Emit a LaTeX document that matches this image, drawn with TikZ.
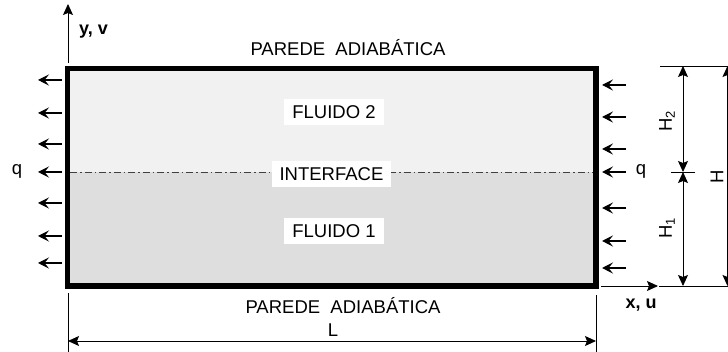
\documentclass[tikz,border=0pt]{standalone}
\usepackage{fontspec}
\setmainfont{Liberation Sans}
\usetikzlibrary{arrows.meta}
\definecolor{fluidtwo}{HTML}{F1F1F1}
\definecolor{fluidone}{HTML}{DEDEDE}
\begin{document}
\begin{tikzpicture}[x=1pt,y=-1pt,
  lbl/.style={font=\fontsize{18.5}{20}\selectfont, inner sep=0pt},
  boldlbl/.style={font=\fontsize{18}{20}\selectfont\bfseries, inner sep=0pt},
  boxlbl/.style={lbl, fill=white, inner xsep=8pt, inner ysep=6pt},
  qarrow/.style={line width=1.1pt, -{Stealth[length=11pt,width=11pt,inset=4.5pt]}},
  dimline/.style={line width=0.9pt, {Stealth[length=11pt,width=10pt,inset=2pt]}-{Stealth[length=11pt,width=10pt,inset=2pt]}},
  extline/.style={line width=0.8pt},
  axis/.style={line width=0.9pt, -{Stealth[length=11pt,width=10pt,inset=2pt]}},
  interf/.style={line width=0.9pt, draw=black!75, dash pattern=on 7pt off 3pt on 1.5pt off 3pt},
  wall/.style={line width=5.5pt}]
\useasboundingbox (0,0) rectangle (728,352);

% key coordinates
\coordinate (tl) at (67.5,68.5);
\coordinate (tr) at (596,68.5);
\coordinate (bl) at (67.5,286);
\coordinate (br) at (596,286);
\coordinate (il) at (70,172);
\coordinate (ir) at (594,172);

% fluids
\fill[fluidtwo] (tl) rectangle (ir);
\fill[fluidone] (il) rectangle (br);

% interface
\draw[interf] (il) -- (ir);

% walls
\draw[wall] (tl) rectangle (br);

% labels inside
\node[boxlbl] (f2) at (334,112) {FLUIDO 2};
\node[boxlbl] (f1) at (334,231) {FLUIDO 1};
\node[boxlbl] (int) at (331.5,174) {INTERFACE};

\node[lbl] (ptop) at (348,48) {PAREDE\ \ ADIABÁTICA};
\node[lbl] (pbot) at (343,306) {PAREDE\ \ ADIABÁTICA};

% axes
\coordinate (yo) at (68,63);
\coordinate (yt) at (68,4);
\draw[axis] (yo) -- (yt);
\node[boldlbl, anchor=west] (ylab) at (79,32) {y, v};
\coordinate (xo) at (601,286);
\coordinate (xt) at (658,286);
\draw[axis] (xo) -- (xt);
\node[boldlbl] (xlab) at (641,305) {x, u};

% heat flux arrows left
\foreach \yy/\nm in {80/a,113/b,144/c,172/d,203/e,236/f,263/g}{
  \coordinate (ls\nm) at (62,\yy);
  \coordinate (le\nm) at (38,\yy);
  \draw[qarrow] (ls\nm) -- (le\nm);
}
\node[lbl] (ql) at (17,171) {q};
% heat flux arrows right
\foreach \yy/\nm in {85/a,117/b,149/c,172/d,208/e,241/f,268/g}{
  \coordinate (rs\nm) at (626,\yy);
  \coordinate (re\nm) at (602,\yy);
  \draw[qarrow] (rs\nm) -- (re\nm);
}
\node[lbl] (qr) at (641,171) {q};

% L dimension
\coordinate (Lla) at (68,293);
\coordinate (Llb) at (68,352);
\coordinate (Lra) at (596,295);
\coordinate (Lrb) at (596,352);
\draw[extline] (Lla) -- (Llb);
\draw[extline] (Lra) -- (Lrb);
\coordinate (La) at (68,341);
\coordinate (Lb) at (596,341);
\draw[dimline] (La) -- (Lb);
\node[lbl] (Llab) at (333,330) {L};

% H dimensions
\coordinate (et1) at (660,66);
\coordinate (et2) at (728,66);
\coordinate (eb1) at (659,286);
\coordinate (eb2) at (728,286);
\draw[extline] (et1) -- (et2);
\draw[extline] (eb1) -- (eb2);
\coordinate (h2t) at (683,66);
\coordinate (hm) at (683,172);
\coordinate (h1b) at (683,286);
\draw[dimline] (h2t) -- (hm);
\draw[dimline] (hm) -- (h1b);
\coordinate (tk1) at (671,172);
\coordinate (tk2) at (695,172);
\draw[extline] (tk1) -- (tk2);
\coordinate (ht) at (727.5,66);
\coordinate (hb) at (727.5,286);
\draw[dimline] (ht) -- (hb);
\node[lbl, rotate=90] (H2lab) at (667,121) {H\textsubscript{2}};
\node[lbl, rotate=90] (H1lab) at (667,228) {H\textsubscript{1}};
\node[lbl, rotate=90] (Hlab) at (717,177) {H};
\end{tikzpicture}
\end{document}
